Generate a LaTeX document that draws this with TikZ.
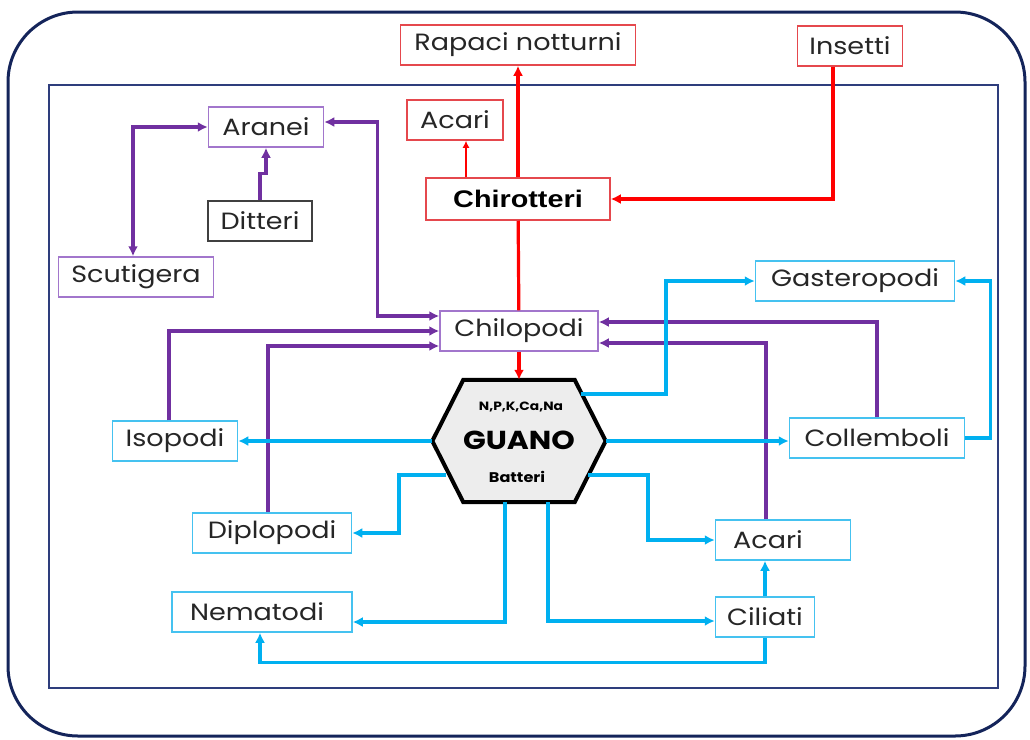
\documentclass[tikz,border=0pt]{standalone}
\usepackage{fontspec}
\setmainfont{Poppins}[FakeStretch=1.15]
\newfontfamily\armfont{Liberation Sans}[FakeStretch=1.2]
\usepackage{xcolor}
\usetikzlibrary{arrows.meta,positioning,calc}
\definecolor{navyout}{HTML}{14245A}
\definecolor{navyin}{HTML}{2E3D7C}
\definecolor{lnred}{HTML}{FF0000}
\definecolor{bxred}{HTML}{E5484D}
\definecolor{lnpur}{HTML}{7030A0}
\definecolor{bxpur}{HTML}{A276CC}
\definecolor{lncya}{HTML}{00B0F0}
\definecolor{bxcya}{HTML}{45C2F0}
\definecolor{txt}{HTML}{262626}

\begin{document}
\begin{tikzpicture}[x=1pt,y=-1pt,
  every node/.style={font=\fontsize{23.5}{26}\selectfont,text=txt},
  box/.style={draw,line width=1.5pt,fill=white,minimum height=40pt,inner sep=2pt},
  rbox/.style={box,draw=bxred},
  pbox/.style={box,draw=bxpur},
  cbox/.style={box,draw=bxcya},
  kbox/.style={box,draw=black!75},
  arr/.style={-{Latex[length=10pt,width=10pt]},line width=3.2pt},
  arrs/.style={{Latex[length=10pt,width=10pt]}-{Latex[length=10pt,width=10pt]},line width=3.2pt},
  hexa/.style={draw=black,line width=4pt,fill=black!7,line join=miter}
]
\useasboundingbox (0,0) rectangle (1030,739);
% frames
\draw[navyout,line width=3pt,rounded corners=70pt] (8,12) rectangle (1025,736);
\draw[navyin,line width=1.5pt] (49,85) rectangle (998,688);

\node[rbox,minimum width=235] (rapaci) at (518,45) {Rapaci notturni};
\node[rbox,minimum width=105] (insetti) at (850,46) {Insetti};
\node[rbox,minimum width=96] (acarir) at (455,120) {Acari};
\node[rbox,minimum width=184,minimum height=42,font=\armfont\bfseries\fontsize{24}{26}\selectfont,text=black] (chiro) at (518,199) {Chirotteri};
\node[pbox,minimum width=115] (aranei) at (266,127) {Aranei};
\node[kbox,minimum width=104] (ditteri) at (260,221) {Ditteri};
\node[pbox,minimum width=155] (scuti) at (136,277) {Scutigera};
\node[pbox,minimum width=158] (chilo) at (519,331) {Chilopodi};
\node[cbox,minimum width=199] (gaste) at (855,281) {Gasteropodi};
\node[cbox,minimum width=175] (colle) at (877,438) {Collemboli};
\node[cbox,minimum width=125] (iso) at (175,441) {Isopodi};
\node[cbox,minimum width=159] (diplo) at (272,533) {Diplopodi};
\node[cbox,minimum width=180] (nema) at (262,612) {Nematodi\kern10pt};
\node[cbox,minimum width=135] (acaric) at (783,540) {Acari\kern30pt};
\node[cbox,minimum width=99] (cilia) at (765,617) {Ciliati};

% guano
\node[minimum width=173,minimum height=122,inner sep=0pt] (guano) at (519,441) {};
\draw[hexa] (guano.west) -- ([xshift=31]guano.north west) -- ([xshift=-31]guano.north east)
  -- (guano.east) -- ([xshift=-31]guano.south east) -- ([xshift=31]guano.south west) -- cycle;
\node[font=\bfseries\fontsize{12}{14}\selectfont,text=black] (npk) at (521,407) {N,P,K,Ca,Na};
\node[font=\bfseries\fontsize{26}{28}\selectfont,text=black] (gtitle) at (519,440) {GUANO};
\node[font=\bfseries\fontsize{14}{16}\selectfont,text=black] (batteri) at (517,477) {Batteri};

% red
\draw[arr,lnred] (chiro) -- (rapaci);
\draw[-{Latex[length=7pt,width=7pt]},line width=1.6pt,lnred] ([xshift=11]acarir.south |- chiro.north) -- ([xshift=11]acarir.south);
\draw[arr,lnred] ([xshift=-17]insetti.south) |- (chiro.east);
\draw[line width=3.2pt,lnred] (chiro) -- (chilo);
\draw[arr,lnred] (chilo) -- (guano);

% purple
\draw[arrs,lnpur] (aranei.west) -| ([xshift=-3]scuti.north);
\draw[arr,lnpur] (ditteri.north) -- ++(0,-27) -| (aranei.south);
\draw[arrs,lnpur] ([yshift=5]aranei.east) -- ++(53,0) |- ([yshift=15]chilo.west);
\draw[arr,lnpur] ([xshift=-6]iso.north) |- (chilo.west);
\draw[arr,lnpur] ([xshift=-4]diplo.north) |- ([yshift=-15]chilo.west);
\draw[arr,lnpur] (colle.north) |- ([yshift=9]chilo.east);
\draw[arr,lnpur] ([xshift=-17]acaric.north) |- ([yshift=-12]chilo.east);

% cyan
\draw[arr,lncya] ($(guano)+(62,-47)$) -- ++(85,0) |- (gaste.west);
\draw[arr,lncya] (colle.east) -- ++(25,0) |- (gaste.east);
\draw[arr,lncya] (guano.east) -- (guano.east -| colle.west);
\draw[arr,lncya] (guano.west) -- (iso.east);
\draw[arr,lncya] ($(guano)+(-73,34)$) -- ++(-47,0) |- (diplo.east);
\draw[arr,lncya] ([xshift=-14]guano.south) |- ([yshift=-10]nema.east);
\draw[arr,lncya] ([xshift=29]guano.south) |- ([yshift=-4]cilia.west);
\draw[arr,lncya] ($(guano)+(69,34)$) -- ++(60,0) |- (acaric.west);
\draw[arr,lncya] (cilia.north) -- (cilia.north |- acaric.south);
\draw[arr,lncya] (cilia.south) -- ++(0,25) -| ([xshift=-2]nema.south);
\end{tikzpicture}
\end{document}
